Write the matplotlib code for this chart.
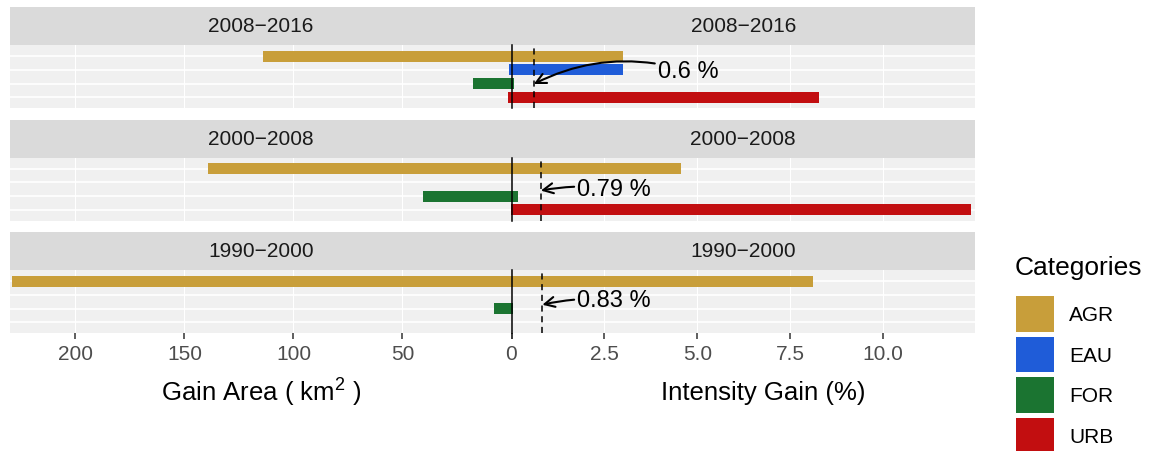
import matplotlib

matplotlib.use("Agg")
import matplotlib.pyplot as plt
import numpy as np
from matplotlib.patches import Patch

plt.rcParams["font.family"] = ["Liberation Sans", "DejaVu Sans"]
plt.rcParams["mathtext.default"] = "regular"

# data
periods = ["2008\u22122016", "2000\u22122008", "1990\u22122000"]
categories = ["AGR", "EAU", "FOR", "URB"]
colors = ["#C89E3A", "#1F5CD8", "#1B7431", "#C20E10"]

# gain area in km2, one row per period, columns follow categories
area_gain = [
    [114.0, 1.0, 17.8, 1.5],
    [139.0, 0.0, 40.5, 0.3],
    [229.0, 0.0, 8.0, 0.0],
]
# intensity of gain in %
intensity_gain = [
    [3.0, 3.0, 0.07, 8.28],
    [4.55, 0.0, 0.17, 12.37],
    [8.1, 0.0, 0.03, 0.0],
]
uniform_intensity = [0.6, 0.79, 0.83]

# label placement for the uniform-intensity callouts (x in %, y in category units)
label_xy = [(3.93, 2.08), (1.76, 2.45), (1.76, 2.36)]
tip_y = [3.03, 2.6, 2.72]
label_rad = [0.2, 0.08, 0.08]

area_ticks = [200, 150, 100, 50, 0]
area_ticklabels = ["200", "150", "100", "50", ""]
intensity_ticks = [0, 2.5, 5.0, 7.5, 10.0]
intensity_ticklabels = ["0", "2.5", "5.0", "7.5", "10.0"]

W, H = 1152, 452
STRIP_BG = "#DADADA"
PANEL_BG = "#F0F0F0"

fig = plt.figure(figsize=(W / 100, H / 100), dpi=100)

x_left, x_mid, x_right = 10, 511.5, 975
ypos = np.arange(1, len(categories) + 1)


def rect(x0, top, w, h):
    return [x0 / W, 1 - (top + h) / H, w / W, h / H]


def style_body(ax, xticks):
    ax.set_facecolor(PANEL_BG)
    for s in ax.spines.values():
        s.set_visible(False)
    ax.set_ylim(4.77, 0.2)
    ax.set_yticks([])
    for y in ypos:
        ax.axhline(y, color="white", lw=1.2, zorder=0)
    for x in xticks:
        ax.axvline(x, color="white", lw=0.8, zorder=0)


for i, period in enumerate(periods):
    strip_top = 8 + i * 112.5
    body_top = strip_top + 38
    body_h = 63
    last = i == len(periods) - 1

    for x0, w in [(x_left, x_mid - x_left), (x_mid, x_right - x_mid)]:
        sax = fig.add_axes(rect(x0, strip_top, w, 38))
        sax.set_facecolor(STRIP_BG)
        sax.set_xticks([])
        sax.set_yticks([])
        for s in sax.spines.values():
            s.set_visible(False)
        sax.text(0.5, 0.5, period, ha="center", va="center", fontsize=15,
                 color="#1A1A1A", transform=sax.transAxes)

    # left: gain area
    axl = fig.add_axes(rect(x_left, body_top, x_mid - x_left, body_h))
    style_body(axl, area_ticks)
    axl.barh(ypos, area_gain[i], height=0.8, color=colors, zorder=2)
    axl.set_xlim(230, 0)

    # right: intensity gain
    axr = fig.add_axes(rect(x_mid, body_top, x_right - x_mid, body_h))
    style_body(axr, intensity_ticks)
    axr.barh(ypos, intensity_gain[i], height=0.8, color=colors, zorder=2)
    axr.set_xlim(0, 12.47)
    axr.axvline(0, color="black", lw=1.1, zorder=3, clip_on=False)
    u = uniform_intensity[i]
    axr.axvline(u, color="black", lw=1.1, ls=(0, (4, 3)), zorder=3)
    axr.annotate(
        f"{u:g} %", xy=(u, tip_y[i]), xytext=label_xy[i],
        ha="left", va="center", fontsize=17, color="black", zorder=4,
        arrowprops=dict(arrowstyle="->", color="black", lw=1.5,
                        connectionstyle=f"arc3,rad={label_rad[i]}",
                        shrinkA=0, shrinkB=0, mutation_scale=18),
    )

    for ax, ticks, labels in [(axl, area_ticks, area_ticklabels),
                              (axr, intensity_ticks, intensity_ticklabels)]:
        if last:
            ax.set_xticks(ticks)
            ax.set_xticklabels(labels)
            ax.tick_params(axis="x", length=4, width=1.1, color="#333333",
                           labelsize=15, labelcolor="#4D4D4D", pad=4)
        else:
            ax.set_xticks([])

fig.text(261 / W, 1 - 393 / H, "Gain Area ( km$^{2}$ )", ha="center", va="center",
         fontsize=18.5, color="black")
fig.text(763 / W, 1 - 393 / H, "Intensity Gain (%)", ha="center", va="center",
         fontsize=18.5, color="black")

# legend: title drawn on its own so the gap above the keys matches
fig.text(1015 / W, 1 - 268 / H, "Categories", ha="left", va="center",
         fontsize=19, color="black")
handles = [Patch(facecolor=c, edgecolor="none", label=lab)
           for c, lab in zip(colors, categories)]
fig.legend(handles=handles, loc="upper left",
           bbox_to_anchor=(1016 / W, 1 - 297 / H), frameon=False,
           borderpad=0, borderaxespad=0,
           fontsize=15, handlelength=1.83, handleheight=2.25,
           labelspacing=0.24, handletextpad=0.72)

fig.savefig("out.png", dpi=100)
